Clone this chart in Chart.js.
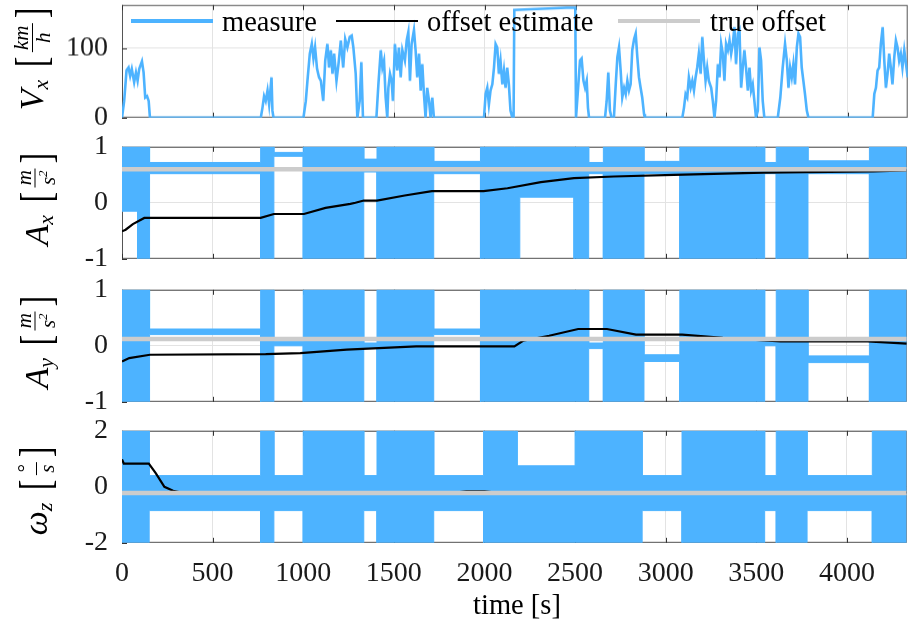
<!DOCTYPE html>
<html>
<head>
<meta charset="utf-8">
<script src="https://cdn.jsdelivr.net/npm/chart.js@4.4.1/dist/chart.umd.min.js"></script>
<style>
body { margin: 0; background: #fff; }
#fig { position: relative; width: 909px; height: 627px; overflow: hidden; font-family: "Liberation Serif", "Times New Roman", serif; color: #000; }
canvas { position: absolute; left: 0; }
.legline { position: absolute; }
.legtxt { position: absolute; font-size: 28.5px; line-height: 1; white-space: nowrap; }
.ylab { position: absolute; transform: translate(-50%, -50%) rotate(-90deg); display: flex; align-items: center; white-space: nowrap; font-size: 34px; font-style: italic; line-height: 1; }
.ylab .sb { font-size: 22px; position: relative; top: 9px; margin-right: 10px; }
.br { font-style: normal; font-size: 44px; line-height: 1; transform: scaleX(0.7); }
.fr { display: inline-flex; flex-direction: column; align-items: center; font-size: 21px; margin: 0 3px; }
.fr span { line-height: 1; padding: 0 2px; }
.fr .num { border-bottom: 1.5px solid #000; }
.fr sup { font-size: 13px; }
#xlab { position: absolute; left: 517px; top: 605px; transform: translate(-50%, -50%); font-size: 28.5px; white-space: nowrap; }
</style>
</head>
<body>
<div id="fig">
  <canvas id="cVx"></canvas>
  <canvas id="cAx"></canvas>
  <canvas id="cAy"></canvas>
  <canvas id="cWz"></canvas>

  <div class="legline" style="left:131px;top:19px;width:82px;height:3.5px;background:#4db3ff"></div>
  <div class="legtxt" style="left:222px;top:8px">measure</div>
  <div class="legline" style="left:336px;top:19.5px;width:82px;height:2.5px;background:#000"></div>
  <div class="legtxt" style="left:427px;top:8px">offset estimate</div>
  <div class="legline" style="left:618px;top:18.5px;width:82px;height:4px;background:#cccccc"></div>
  <div class="legtxt" style="left:710px;top:8px">true offset</div>

  <div class="ylab" style="left:32px;top:58px"><span>V</span><span class="sb">x</span><span class="br">[</span><span class="fr"><span class="num">km</span><span>h</span></span><span class="br">]</span></div>
  <div class="ylab" style="left:36px;top:198px"><span>A</span><span class="sb">x</span><span class="br">[</span><span class="fr"><span class="num">m</span><span>s<sup>2</sup></span></span><span class="br">]</span></div>
  <div class="ylab" style="left:36px;top:341px"><span>A</span><span class="sb">y</span><span class="br">[</span><span class="fr"><span class="num">m</span><span>s<sup>2</sup></span></span><span class="br">]</span></div>
  <div class="ylab" style="left:36px;top:490px"><span>ω</span><span class="sb">z</span><span class="br">[</span><span class="fr"><span class="num">°</span><span>s</span></span><span class="br">]</span></div>
  <div id="xlab">time [s]</div>
</div>

<script>
// time axis
XMAX = 4330
const xTicks = [0, 500, 1000, 1500, 2000, 2500, 3000, 3500, 4000]

// speed measure (km/h)
const vxT = [0,3,12,25,36,45,54,67,77,86,95,110,119,128,138,147,154,
  765,774,783,792,802,811,824,829,835,
  1000,1013,1022,1035,1046,1055,1064,1075,1086,1096,1109,1120,1132,1141,1151,1160,1169,1182,1193,1206,1219,1230,1242,1255,1266,1275,1288,1297,1310,1319,1328,
  1402,1413,1426,1435,1444,1453,1462,1468,1477,1486,1493,1504,1517,1526,1536,1545,1559,1569,1578,1587,1596,1609,1618,1627,1637,1646,1655,1664,1673,1682,1692,1701,1710,1719,
  1995,2004,2013,2022,2031,2041,2050,2059,2068,2077,2086,2096,2105,2114,2123,2132,2141,2151,2158,2162,2250,2350,2450,2498,2502,2506,2515,2524,2533,2543,2552,2561,2568,2574,
  2662,2671,2680,2689,2698,2711,2721,2730,2739,2748,2757,2767,2776,2785,2794,2803,2812,2822,2831,2840,2849,2858,2867,2877,2882,
  3088,3097,3106,3115,3124,3134,3143,3152,3161,3170,3179,3189,3198,3207,3216,3225,3234,3247,3256,3265,3274,3284,3293,3302,3311,3320,3329,3339,3348,3357,3366,3375,3384,3394,3403,3412,3421,3430,3439,3449,3458,3467,3476,3485,3494,3504,3513,3522,3531,3540,
  3614,3628,3641,3654,3664,3673,3682,3691,3700,3709,3719,3728,3737,3746,3755,3764,3774,3783,
  4137,4146,4155,4164,4173,4182,4192,4201,4210,4219,4228,4237,4246,4256,4265,4274,4283,4292,4301,4311,4330]
const vxV = [0,0,24,68,72,60,70,51,65,53,70,81,65,29,31,24,0,
  0,14,31,24,39,19,58,10,0,
  0,24,53,92,106,85,101,70,58,53,24,82,106,72,97,63,92,53,77,111,72,113,101,116,118,101,63,0,24,80,0,
  0,48,97,72,82,29,0,43,63,53,24,106,68,101,58,97,82,111,123,53,106,126,97,58,92,39,77,34,0,43,24,0,29,0,
  0,34,43,19,39,48,72,106,101,63,82,48,68,43,72,48,10,0,0,155,156,157,158,158,0,0,48,82,85,53,43,53,14,0,
  0,24,65,10,0,0,48,87,101,68,29,43,34,53,39,48,97,113,121,87,58,43,29,5,0,
  0,14,34,29,58,43,53,39,58,72,92,63,116,82,53,72,53,43,24,0,24,77,58,106,92,53,106,97,111,92,106,130,77,121,126,43,72,97,72,39,72,39,48,24,0,10,101,82,24,0,
  0,29,72,106,82,43,72,58,77,48,101,121,116,72,53,34,10,0,
  0,34,43,68,72,106,130,82,43,63,92,72,48,87,111,101,82,92,72,97,58]

// measure envelopes: segment edges, low and high value of the noisy band in each segment
const axSeg = [0,86,152,765,838,1000,1334,1407,1720,1978,2195,2494,2575,2656,2880,3078,3546,3610,3785,4124,4330]
const axLo  = [-0.15,-1,0.52,-1,0.83,-1,0.55,-1,0.52,-1,0.1,-1,0.52,-1,0.52,-1,0.52,-1,0.52,-1]
const axHi  = [1,1,0.72,1,0.9,1,0.78,1,0.74,1,1,1,0.72,1,0.74,1,0.72,1,0.75,1]
const aySeg = [0,152,765,838,1000,1334,1407,1720,1978,2200,2575,2656,2880,3078,3546,3610,3785,4124,4330]
const ayLo  = [-1,0.2,-1,0,-1,-0.05,-1,0.2,-1,-1,-0.05,-1,-0.28,-1,0,-1,-0.3,-1]
const ayHi  = [1,0.3,1,0.08,1,0.05,1,0.3,1,1,0.05,1,-0.16,1,0.1,1,-0.18,1]
const wzSeg = [0,150,765,838,1000,1334,1407,1720,1995,2180,2500,2870,3090,3546,3610,3780,4140,4330]
const wzLo  = [-2,-0.85,-2,-0.85,-2,-0.85,-2,-0.85,-2,-2,-2,-0.85,-2,-0.85,-2,-0.85,-2]
const wzHi  = [2,0.4,2,0.4,2,0.4,2,0.4,2,0.75,2,0.4,2,0.4,2,0.4,2]

// offset estimates
const axEstT = [0,20,60,123,765,838,1004,1123,1260,1288,1334,1407,1560,1710,1995,2127,2311,2494,2714,3045,3541,4146,4330]
const axEstV = [-0.51,-0.48,-0.38,-0.27,-0.27,-0.2,-0.2,-0.09,-0.02,0,0.04,0.04,0.13,0.21,0.21,0.26,0.37,0.44,0.47,0.5,0.54,0.56,0.58]
const ayEstT = [0,40,154,793,984,1240,1623,2165,2213,2357,2517,2676,2836,3091,3315,3634,4113,4330]
const ayEstV = [-0.28,-0.22,-0.16,-0.15,-0.13,-0.07,-0.01,-0.01,0.09,0.18,0.3,0.3,0.2,0.2,0.14,0.08,0.08,0.04]
const wzEstT = [0,10,148,186,234,282,320,1850,1900,2000,2050,4330]
const wzEstV = [0.98,0.83,0.83,0.49,0,-0.14,-0.2,-0.2,-0.16,-0.16,-0.2,-0.2]

// true offsets
const axTrue = 0.6
const ayTrue = 0.12
const wzTrue = -0.22

BLUE = '#4db3ff'
GRID = '#e3e3e3'
PH = 112

function pts(t, v) { return t.map((x, i) => ({x: x, y: v[i]})) }

function envelope(seg, lo, hi) {
    var up = [], dn = []
    for (let i = 0; i < lo.length; i++) {
        up.push({x: seg[i], y: hi[i]}, {x: seg[i+1], y: hi[i]})
        dn.push({x: seg[i], y: lo[i]}, {x: seg[i+1], y: lo[i]})
    }
    return {up, dn}
}

const boxPlugin = {
    id: 'box',
    beforeDatasetsDraw(chart) {
        const {ctx, chartArea: a} = chart
        ctx.save()
        ctx.strokeStyle = '#555'
        ctx.lineWidth = 1
        ctx.strokeRect(a.left + 0.5, a.top + 0.5, a.right - a.left - 1, a.bottom - a.top - 1)
        ctx.strokeStyle = '#333'
        ctx.beginPath()
        chart.scales.x.ticks.forEach(t => {
            const px = Math.round(chart.scales.x.getPixelForValue(t.value)) + 0.5
            ctx.moveTo(px, a.top); ctx.lineTo(px, a.top + 5)
            ctx.moveTo(px, a.bottom); ctx.lineTo(px, a.bottom - 5)
        })
        chart.scales.y.ticks.forEach(t => {
            const py = Math.round(chart.scales.y.getPixelForValue(t.value)) + 0.5
            ctx.moveTo(a.left, py); ctx.lineTo(a.left + 5, py)
        })
        ctx.stroke()
        ctx.restore()
    }
}

function makePanel(cfg) {
    const canvas = document.getElementById(cfg.id)
    canvas.width = 909
    canvas.height = cfg.last ? 240 : 160
    const font = {family: 'Liberation Serif', size: 28}
    const chart = new Chart(canvas, {
        type: 'line',
        data: {datasets: cfg.datasets},
        options: {
            responsive: false,
            maintainAspectRatio: false,
            animation: false,
            events: [],
            parsing: false,
            layout: {padding: 0},
            elements: {point: {radius: 0}, line: {tension: 0}},
            plugins: {legend: {display: false}, tooltip: {enabled: false}},
            scales: {
                x: {
                    type: 'linear', min: 0, max: XMAX,
                    afterBuildTicks: s => { s.ticks = xTicks.map(v => ({value: v})) },
                    ticks: {display: !!cfg.last, padding: 14, font: font, color: '#1a1a1a', maxRotation: 0, autoSkip: false,
                            callback: v => String(v)},
                    grid: {color: GRID, drawTicks: false},
                    border: {display: false},
                    afterFit: s => { s.height = cfg.last ? 90 : 0 }
                },
                y: {
                    min: cfg.ymin, max: cfg.ymax,
                    afterBuildTicks: s => { s.ticks = cfg.yticks.map(v => ({value: v})) },
                    ticks: {padding: 14, font: font, color: '#1a1a1a', callback: v => String(v)},
                    grid: {color: GRID, drawTicks: false},
                    border: {display: false},
                    afterFit: s => { s.width = 122 }
                }
            }
        },
        plugins: [boxPlugin]
    })
    // make the plot area exactly PH tall and put it at cfg.top
    for (let k = 0; k < 3; k++) {
        const a = chart.chartArea
        chart.resize(909, chart.height + (PH - (a.bottom - a.top)))
    }
    canvas.style.top = (cfg.top - chart.chartArea.top) + 'px'
    return chart
}

function offsetSets(env, estT, estV, trueV) {
    return [
        {data: env.up, borderColor: BLUE, backgroundColor: BLUE, borderWidth: 1, fill: '+1', order: 3},
        {data: env.dn, borderColor: BLUE, backgroundColor: BLUE, borderWidth: 1, fill: false, order: 3},
        {data: pts(estT, estV), borderColor: '#000', borderWidth: 2.2, fill: false, order: 1},
        {data: [{x: 0, y: trueV}, {x: XMAX, y: trueV}], borderColor: '#cccccc', borderWidth: 4.5, fill: false, order: 0}
    ]
}

window.onload = function() {
    makePanel({id: 'cVx', top: 5, ymin: 0, ymax: 162, yticks: [0, 100], datasets: [
        {data: pts(vxT, vxV), borderColor: BLUE, borderWidth: 2.6, fill: false}
    ]})
    makePanel({id: 'cAx', top: 146.5, ymin: -1, ymax: 1, yticks: [-1, 0, 1],
        datasets: offsetSets(envelope(axSeg, axLo, axHi), axEstT, axEstV, axTrue)})
    makePanel({id: 'cAy', top: 289.5, ymin: -1, ymax: 1, yticks: [-1, 0, 1],
        datasets: offsetSets(envelope(aySeg, ayLo, ayHi), ayEstT, ayEstV, ayTrue)})
    makePanel({id: 'cWz', top: 430.5, ymin: -2, ymax: 2, yticks: [-2, 0, 2], last: true,
        datasets: offsetSets(envelope(wzSeg, wzLo, wzHi), wzEstT, wzEstV, wzTrue)})
}
</script>
</body>
</html>
